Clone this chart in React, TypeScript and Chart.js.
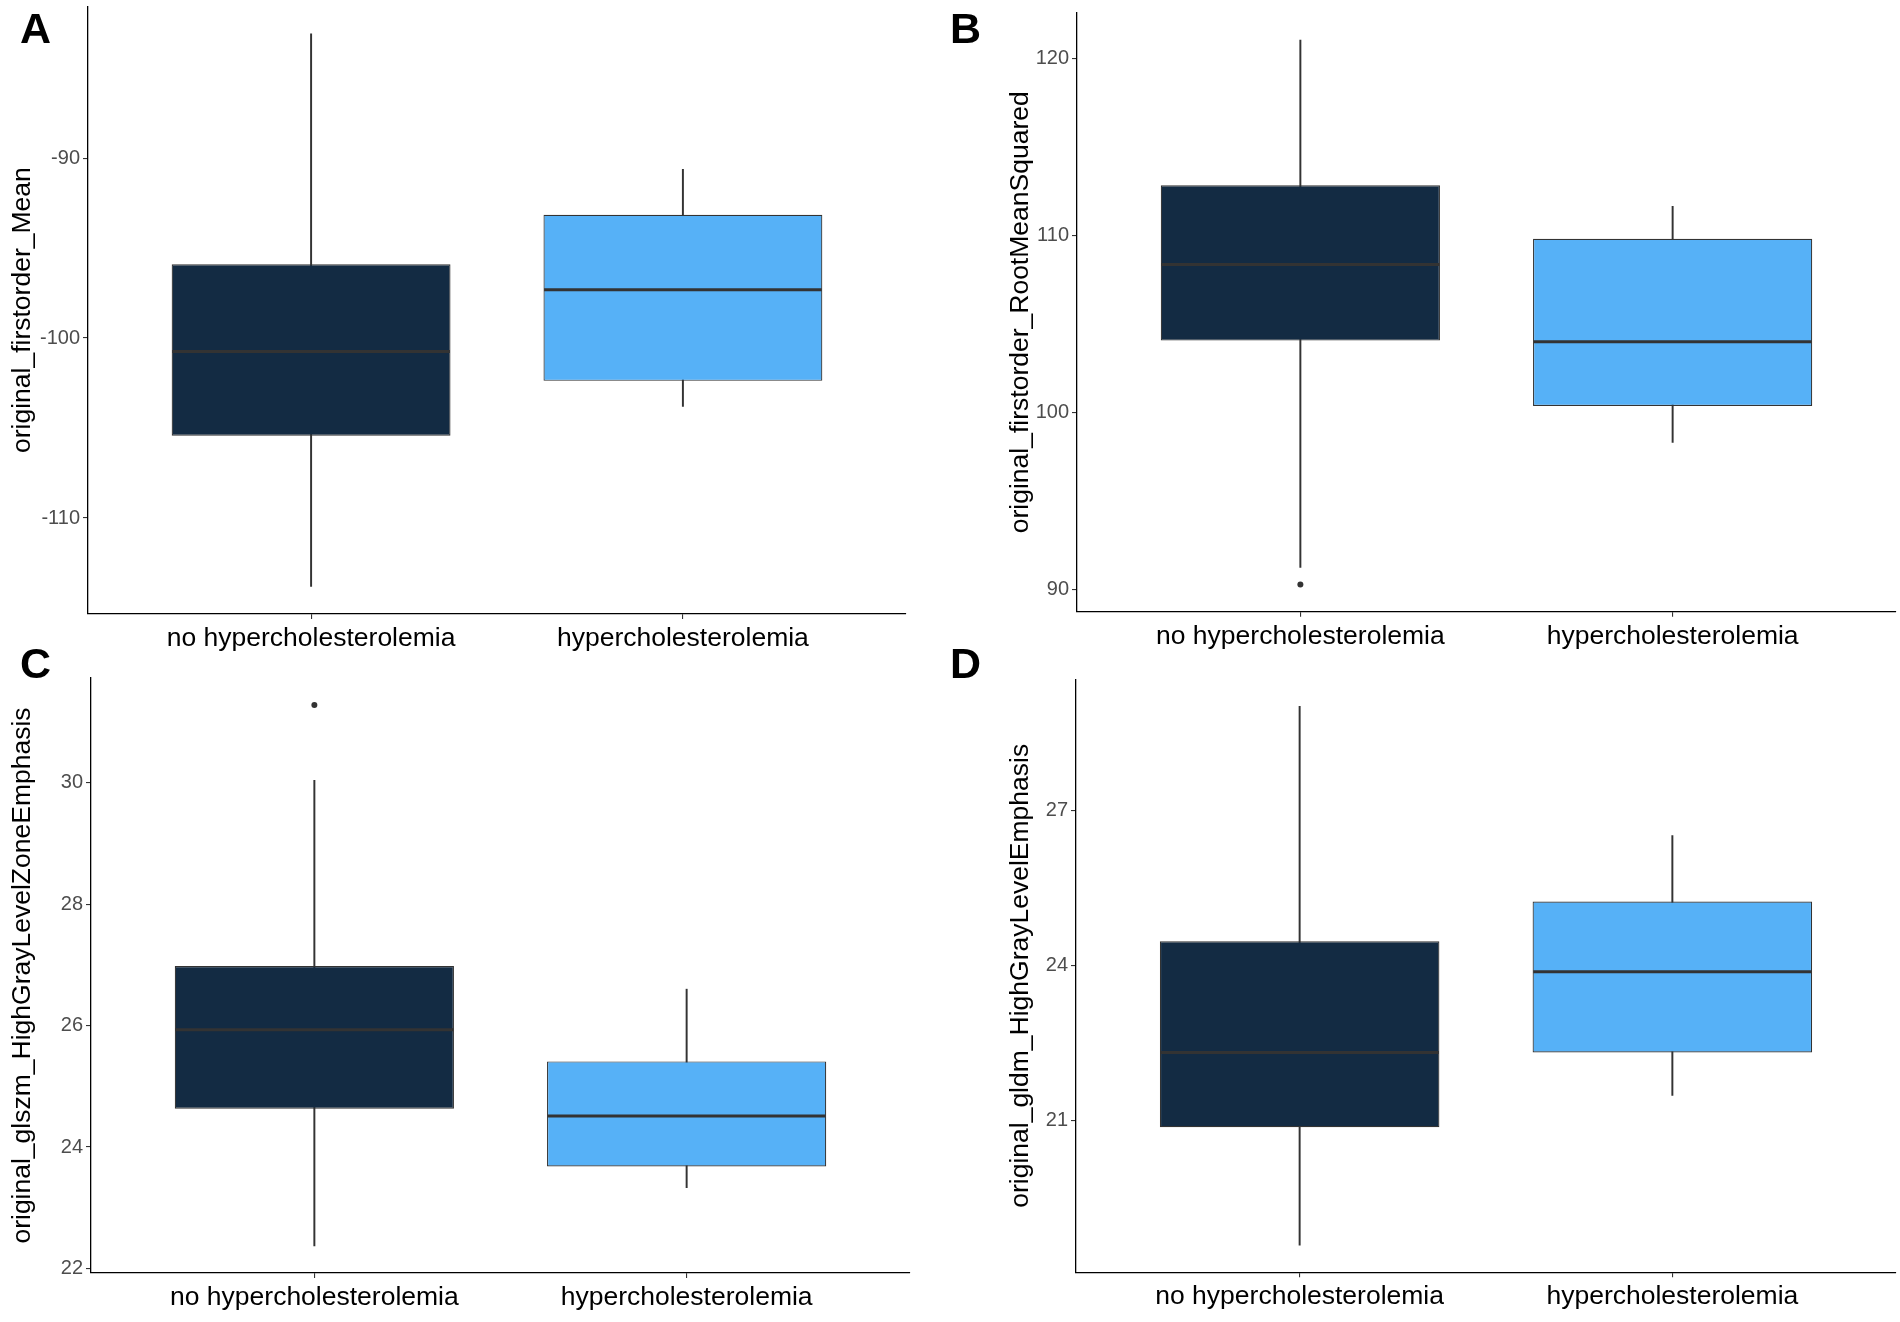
import React, { useEffect, useRef } from 'react';
import { Chart, registerables } from 'chart.js';

Chart.register(...registerables);

// ---------- data ----------
const categories = ['no hypercholesterolemia', 'hypercholesterolemia'];
const boxColors = ['#132B43', '#56B1F7'];

// Panel A: original_firstorder_Mean
const meanLow = [-113.8, -103.8];
const meanQ1 = [-105.43, -102.38];
const meanMedian = [-100.75, -97.32];
const meanQ3 = [-95.9, -93.15];
const meanHigh = [-83.1, -90.62];
const meanOutliers = [[], []];
const meanTicks = [-110, -100, -90];

// Panel B: original_firstorder_RootMeanSquared
const rmsLow = [91.26, 98.31];
const rmsQ1 = [104.06, 100.37];
const rmsMedian = [108.35, 104.0];
const rmsQ3 = [112.83, 109.81];
const rmsHigh = [121.02, 111.63];
const rmsOutliers = [[90.3], []];
const rmsTicks = [90, 100, 110, 120];

// Panel C: original_glszm_HighGrayLevelZoneEmphasis
const glszmLow = [22.37, 23.33];
const glszmQ1 = [24.63, 23.68];
const glszmMedian = [25.93, 24.51];
const glszmQ3 = [26.98, 25.41];
const glszmHigh = [30.04, 26.6];
const glszmOutliers = [[31.28], []];
const glszmTicks = [22, 24, 26, 28, 30];

// Panel D: original_gldm_HighGrayLevelEmphasis
const gldmLow = [18.57, 21.48];
const gldmQ1 = [20.86, 22.31];
const gldmMedian = [22.31, 23.88];
const gldmQ3 = [24.47, 25.24];
const gldmHigh = [29.03, 26.52];
const gldmOutliers = [[], []];
const gldmTicks = [21, 24, 27];

// ---------- layout / style ----------
const FONT = '"Liberation Sans", Arial, Helvetica, sans-serif';
const LINE = '#333333';

type Panel = {
  letter: string;
  title: string;
  low: number[];
  q1: number[];
  median: number[];
  q3: number[];
  high: number[];
  outliers: number[][];
  ticks: number[];
  left: number;
  top: number;
  padTop: number;
  padRight: number;
  yAxisW: number;
  xAxisH: number;
  titlePad: number;
  letterLeft: number;
  letterTop: number;
};

const panels: Panel[] = [
  {
    letter: 'A', title: 'original_firstorder_Mean',
    low: meanLow, q1: meanQ1, median: meanMedian, q3: meanQ3, high: meanHigh, outliers: meanOutliers, ticks: meanTicks,
    left: 0, top: 0, padTop: 6.3, padRight: 44, yAxisW: 88, xAxisH: 47, titlePad: 9.75,
    letterLeft: 20, letterTop: 6.6,
  },
  {
    letter: 'B', title: 'original_firstorder_RootMeanSquared',
    low: rmsLow, q1: rmsQ1, median: rmsMedian, q3: rmsQ3, high: rmsHigh, outliers: rmsOutliers, ticks: rmsTicks,
    left: 950, top: 0, padTop: 12.8, padRight: 4, yAxisW: 127, xAxisH: 49.3, titlePad: 57.75,
    letterLeft: 950, letterTop: 6.6,
  },
  {
    letter: 'C', title: 'original_glszm_HighGrayLevelZoneEmphasis',
    low: glszmLow, q1: glszmQ1, median: glszmMedian, q3: glszmQ3, high: glszmHigh, outliers: glszmOutliers, ticks: glszmTicks,
    left: 0, top: 661, padTop: 17, padRight: 40, yAxisW: 91, xAxisH: 49, titlePad: 9.75,
    letterLeft: 20, letterTop: 641.6,
  },
  {
    letter: 'D', title: 'original_gldm_HighGrayLevelEmphasis',
    low: gldmLow, q1: gldmQ1, median: gldmMedian, q3: gldmQ3, high: gldmHigh, outliers: gldmOutliers, ticks: gldmTicks,
    left: 950, top: 661, padTop: 18.4, padRight: 4, yAxisW: 126, xAxisH: 49.8, titlePad: 57,
    letterLeft: 950, letterTop: 641.6,
  },
];

const medianPlugin = {
  id: 'medianLines',
  afterDatasetsDraw(chart: any, _args: any, opts: any) {
    const values: number[] = opts.values || [];
    const meta = chart.getDatasetMeta(1);
    const yScale = chart.scales.y;
    const ctx = chart.ctx;
    ctx.save();
    ctx.strokeStyle = LINE;
    ctx.lineWidth = 3;
    meta.data.forEach((bar: any, i: number) => {
      const { x, width } = bar.getProps(['x', 'width'], true);
      const py = yScale.getPixelForValue(values[i]);
      ctx.beginPath();
      ctx.moveTo(x - width / 2 + 0.6, py);
      ctx.lineTo(x + width / 2 - 0.6, py);
      ctx.stroke();
    });
    ctx.restore();
  },
};

function makeConfig(p: Panel): any {
  const all = [...p.low, ...p.high, ...p.outliers.flat()];
  const lo = Math.min(...all);
  const hi = Math.max(...all);
  const expand = (hi - lo) * 0.05;
  const outlierPoints: { x: number; y: number }[] = [];
  p.outliers.forEach((arr, i) => arr.forEach((v) => outlierPoints.push({ x: i + 1, y: v })));

  const gridOpts = {
    display: true,
    drawOnChartArea: false,
    drawTicks: true,
    offset: false,
    tickLength: 5,
    color: LINE,
    lineWidth: 1.1,
  };
  const borderOpts = { display: true, color: '#000000', width: 1.3 };

  return {
    type: 'bar',
    data: {
      datasets: [
        {
          type: 'bar',
          data: categories.map((_, i) => ({ x: i + 1, y: [p.low[i], p.high[i]] })),
          backgroundColor: LINE,
          borderWidth: 0,
          barThickness: 1.3,
          grouped: false,
          order: 3,
        },
        {
          type: 'bar',
          data: categories.map((_, i) => ({ x: i + 1, y: [p.q1[i], p.q3[i]] })),
          backgroundColor: boxColors,
          borderColor: LINE,
          borderWidth: 1.2,
          borderSkipped: false,
          barPercentage: 0.75,
          categoryPercentage: 1,
          grouped: false,
          order: 2,
        },
        {
          type: 'scatter',
          data: outlierPoints,
          pointRadius: 3,
          pointHoverRadius: 3,
          backgroundColor: LINE,
          borderWidth: 0,
          order: 1,
        },
      ],
    },
    options: {
      responsive: false,
      animation: false,
      events: [],
      layout: { padding: { left: 0, top: p.padTop, right: p.padRight, bottom: 0 } },
      plugins: {
        legend: { display: false },
        tooltip: { enabled: false },
        medianLines: { values: p.median },
      },
      scales: {
        x: {
          type: 'linear',
          min: 0.4,
          max: 2.6,
          offset: false,
          afterBuildTicks: (s: any) => {
            s.ticks = categories.map((_, i) => ({ value: i + 1 }));
          },
          afterFit: (s: any) => {
            s.height = p.xAxisH;
            s.paddingLeft = 0;
            s.paddingRight = 0;
          },
          ticks: {
            callback: (v: any) => categories[Math.round(v) - 1] ?? '',
            color: '#000000',
            font: { family: FONT, size: 26.5 },
            padding: 4,
            autoSkip: false,
            maxRotation: 0,
            minRotation: 0,
          },
          grid: gridOpts,
          border: borderOpts,
        },
        y: {
          type: 'linear',
          min: lo - expand,
          max: hi + expand,
          afterBuildTicks: (s: any) => {
            s.ticks = p.ticks.map((v) => ({ value: v }));
          },
          afterFit: (s: any) => {
            s.width = p.yAxisW;
            s.paddingTop = 0;
            s.paddingBottom = 0;
          },
          ticks: {
            callback: (v: any) => String(v),
            color: '#4D4D4D',
            font: { family: FONT, size: 20 },
            padding: 3,
          },
          grid: gridOpts,
          border: borderOpts,
          title: {
            display: true,
            text: p.title,
            color: '#000000',
            font: { family: FONT, size: 26.5, lineHeight: 1 },
            padding: { top: p.titlePad, bottom: 0 },
          },
        },
      },
    },
    plugins: [medianPlugin],
  };
}

function PanelChart({ panel }: { panel: Panel }) {
  const ref = useRef<HTMLCanvasElement | null>(null);
  useEffect(() => {
    if (!ref.current) return;
    const chart = new Chart(ref.current, makeConfig(panel));
    return () => chart.destroy();
  }, [panel]);
  return (
    <canvas
      ref={ref}
      width={950}
      height={661}
      style={{ position: 'absolute', left: panel.left, top: panel.top, width: 950, height: 661 }}
    />
  );
}

export default function App() {
  return (
    <div
      style={{
        position: 'absolute',
        left: 0,
        top: 0,
        width: 1900,
        height: 1322,
        background: '#ffffff',
        overflow: 'hidden',
      }}
    >
      {panels.map((p) => (
        <PanelChart key={p.letter} panel={p} />
      ))}
      {panels.map((p) => (
        <div
          key={'l' + p.letter}
          style={{
            position: 'absolute',
            left: p.letterLeft,
            top: p.letterTop,
            margin: 0,
            fontFamily: FONT,
            fontWeight: 'bold',
            fontSize: 43,
            lineHeight: '43px',
            color: '#000000',
          }}
        >
          {p.letter}
        </div>
      ))}
    </div>
  );
}
